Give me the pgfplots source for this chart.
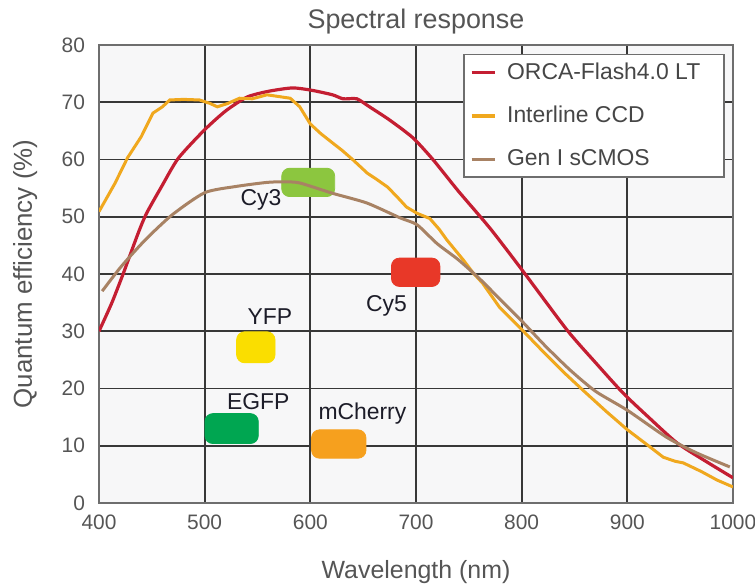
\documentclass[border=0pt]{standalone}
\usepackage{pgfplots}
\pgfplotsset{compat=1.18}
\usepackage{fontspec}
\setmainfont{Liberation Sans}

\definecolor{orcared}{RGB}{196,30,50}
\definecolor{ccdorange}{RGB}{240,168,30}
\definecolor{sbrown}{RGB}{168,130,100}
\definecolor{gridcol}{RGB}{55,55,55}
\definecolor{framecol}{RGB}{110,110,110}
\definecolor{bgcol}{RGB}{247,247,248}
\definecolor{textcol}{RGB}{85,85,85}
\definecolor{legtext}{RGB}{70,70,70}
\definecolor{dyetext}{RGB}{28,28,40}
\definecolor{cythree}{RGB}{140,198,63}
\definecolor{cyfive}{RGB}{232,56,40}
\definecolor{yfpcol}{RGB}{250,222,0}
\definecolor{egfpcol}{RGB}{0,166,81}
\definecolor{mcherrycol}{RGB}{246,160,30}

\newcommand\dyemark[3]{\pgfdeclareplotmark{#1}{%
  \path[fill, rounded corners=4bp] (-#2/2,-#3/2) rectangle (#2/2,#3/2);}}
\dyemark{cythreemark}{26.5bp}{14.2bp}
\dyemark{cyfivemark}{24.2bp}{14.2bp}
\dyemark{yfpmark}{19.2bp}{15.5bp}
\dyemark{egfpmark}{26.7bp}{15bp}
\dyemark{mcherrymark}{27.2bp}{14.2bp}

\begin{document}
\begin{tikzpicture}
\begin{axis}[
  at={(0,0)}, anchor=south west,
  scale only axis, width=317bp, height=229bp,
  clip mode=individual,
  xmin=400, xmax=1000, ymin=0, ymax=80,
  xtick={400,500,...,1000}, ytick={0,10,...,80},
  major tick length=0pt,
  grid=major,
  grid style={line width=0.9bp, color=gridcol},
  axis line style={line width=0.75bp, color=framecol},
  axis background/.style={fill=bgcol},
  /pgf/number format/assume math mode=true,
  /pgf/number format/1000 sep={},
  tick label style={font=\fontsize{10.5}{12}\selectfont, text=textcol},
  yticklabel style={xshift=-3.5bp},
  xticklabel style={yshift=-2.5bp},
  xlabel={Wavelength (nm)},
  xlabel style={at={(axis description cs:0.5,-0.1638)}, anchor=base, font=\fontsize{12.5}{15}\selectfont, text=textcol},
  ylabel={Quantum efficiency (\%)},
  ylabel style={at={(axis description cs:-0.1057,0.5)}, anchor=base, font=\fontsize{13}{15}\selectfont, text=textcol},
  legend style={at={(axis description cs:1,1)}, anchor=north east, xshift=-4bp, yshift=-4.5bp,
    draw=framecol, line width=0.75bp, fill=white, font=\fontsize{11.5}{13}\selectfont, text=legtext,
    inner xsep=3bp, inner ysep=2bp, row sep=8bp,
    /tikz/every odd column/.append style={column sep=3.5bp}},
  legend cell align=left,
  legend image code/.code={\draw[#1, line width=1.6bp] (0bp,0bp) -- (11.5bp,0bp);},
]
% dye markers
\addplot[only marks, forget plot, mark=cythreemark, color=cythree] coordinates {(598,56)};
\addplot[only marks, forget plot, mark=cyfivemark, color=cyfive] coordinates {(699.7,40.3)};
\addplot[only marks, forget plot, mark=yfpmark, color=yfpcol] coordinates {(548.4,27.2)};
\addplot[only marks, forget plot, mark=egfpmark, color=egfpcol] coordinates {(525.5,13.0)};
\addplot[only marks, forget plot, mark=mcherrymark, color=mcherrycol] coordinates {(626.9,10.3)};

\node[anchor=base, font=\fontsize{13.5}{16}\selectfont, text=textcol] at (axis description cs:0.5,1.0371) {Spectral response};

\node[anchor=base, font=\fontsize{11.5}{13}\selectfont, text=dyetext] at (axis cs:553.3,52.05) {Cy3};
\node[anchor=base, font=\fontsize{11.5}{13}\selectfont, text=dyetext] at (axis cs:672.1,33.45) {Cy5};
\node[anchor=base, font=\fontsize{11.5}{13}\selectfont, text=dyetext] at (axis cs:561.8,31.1) {YFP};
\node[anchor=base, font=\fontsize{11.5}{13}\selectfont, text=dyetext] at (axis cs:550.7,16.37) {EGFP};
\node[anchor=base, font=\fontsize{11.5}{13}\selectfont, text=dyetext] at (axis cs:649.3,14.5) {mCherry};

% ORCA-Flash4.0 LT
\addplot[color=orcared, line width=1.6bp, smooth, tension=0.4] coordinates {
(400,30) (412,34.9) (423,40.1) (437,47.1) (445,50.6) (459,55.2) (475,60.2)
(500,65.2) (520,68.5) (540,70.9) (560,71.9) (583,72.5) (601,72.1) (621,71.3)
(631,70.6) (644,70.6) (656,69.2) (675,66.9) (697,63.8) (716,60) (740,54.5)
(770,48.0) (800,40.8) (843,30.2) (870,24.5) (896,19.2) (920,15) (947,10.5)
(975,7.2) (1000,4.4)};
\addlegendentry{ORCA-Flash4.0 LT\kern7bp}

% Interline CCD
\addplot[color=ccdorange, line width=1.5bp] coordinates {
(400,50.9) (415,55.8) (427,60.3) (440,64) (451,68.1) (460,69.2) (467,70.4)
(480,70.5) (495,70.4) (505,69.8) (512,69.2) (522,69.8) (533,70.7) (545,70.6)
(559,71.3) (570,71) (581,70.7) (590,69.2) (600,66.2) (610,64.5) (621,62.9)
(630,61.6) (640,60) (654,57.6) (663,56.5) (673,55.2) (682,53.5) (691,51.7)
(701,50.6) (713,49.7) (722,47.8) (729,46) (745,42.4) (754,40.2) (763,38.4)
(779,34.2) (798,30.7) (820,26.5) (840,22.8) (858,19.7) (880,16) (900,12.8)
(920,10) (934,8.0) (945,7.3) (953,7.0) (970,5.5) (985,4.0) (1000,2.8)};
\addlegendentry{Interline CCD}

% Gen I sCMOS
\addplot[color=sbrown, line width=1.5bp, smooth, tension=0.4] coordinates {
(403,37.0) (421,41.3) (443.5,45.9) (469,50.3) (500,54.2) (530,55.3) (559,56.0)
(575,56.1) (590,55.9) (621,54.1) (653.5,52.4) (685,49.8) (701,48.6) (720,45.3)
(740,42.5) (760,39.2) (780,35.5) (800,31.8) (822,27.5) (846,23.2) (870,19.5)
(900,16.2) (937,11.5) (965,8.8) (997,6.3)};
\addlegendentry{Gen I sCMOS}
\end{axis}
\pgfresetboundingbox
\path[use as bounding box] (-49.5bp,-42bp) rectangle (328bp,251.5bp);
\end{tikzpicture}
\end{document}
